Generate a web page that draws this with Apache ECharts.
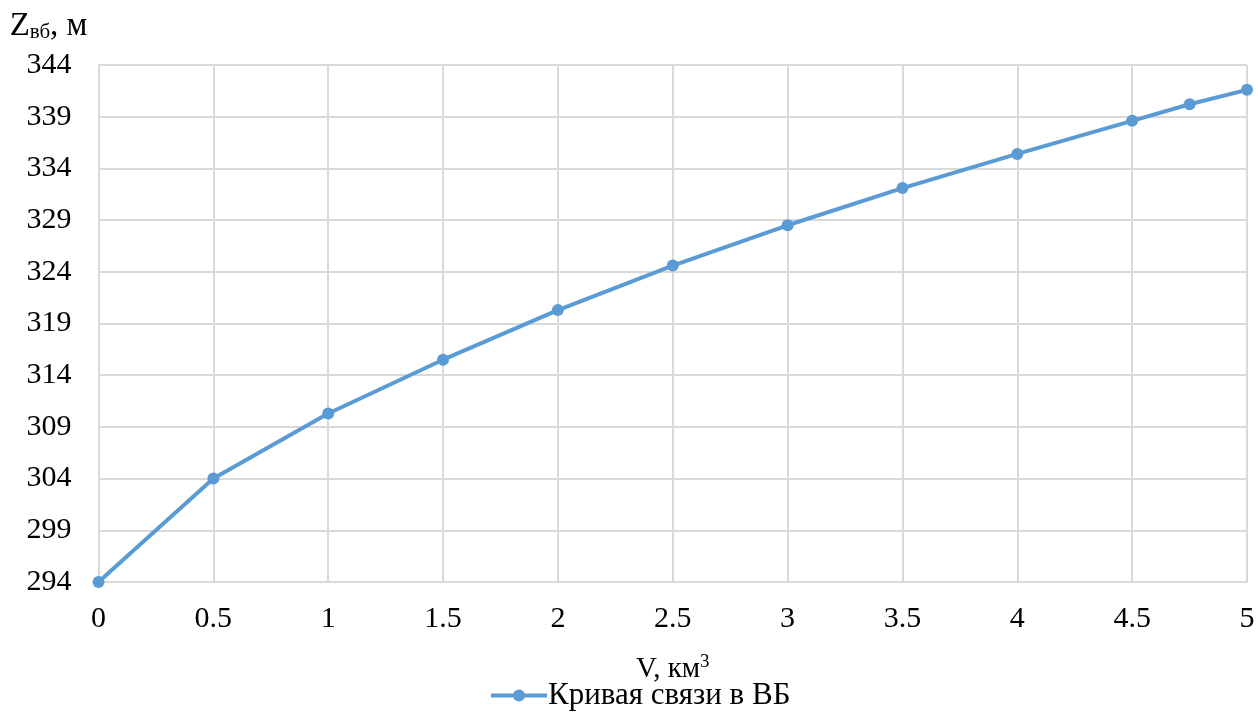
<!DOCTYPE html>
<html>
<head>
<meta charset="utf-8">
<script src="https://cdn.jsdelivr.net/npm/echarts@6/dist/echarts.min.js"></script>
<style>
  html, body { margin: 0; padding: 0; background: #fff; }
  #chart { width: 1258px; height: 718px; }
</style>
</head>
<body>
<div id="chart"></div>
<script>
// Volume (km³) and water level of the reservoir (m)
const volumes = [0, 0.5, 1, 1.5, 2, 2.5, 3, 3.5, 4, 4.5, 4.75, 5];
const levels = [294.0, 304.0, 310.3, 315.5, 320.3, 324.6, 328.5, 332.1, 335.4, 338.6, 340.2, 341.6];
const yTicks = [294, 299, 304, 309, 314, 319, 324, 329, 334, 339, 344];
const seriesName = 'Кривая связи в ВБ';

const FONT = '"Liberation Serif", "Times New Roman", serif';
const LINE_COLOR = '#5b9bd5';
const GRID_COLOR = '#d9d9d9';

const chart = echarts.init(document.getElementById('chart'));
chart.setOption({
  animation: false,
  textStyle: { fontFamily: FONT, color: '#000' },
  grid: { left: 98.5, right: 11, top: 65, bottom: 136, containLabel: false },
  xAxis: {
    type: 'value',
    min: 0,
    max: 5,
    interval: 0.5,
    name: '{t|V, км}{sup|3}',
    nameLocation: 'middle',
    nameGap: 71,
    nameTextStyle: {
      rich: {
        t: { fontFamily: FONT, fontSize: 29, color: '#000' },
        sup: { fontFamily: FONT, fontSize: 19, color: '#000', verticalAlign: 'top', padding: [0, 0, 14, 0] }
      }
    },
    axisLine: { show: true, lineStyle: { color: GRID_COLOR, width: 2 } },
    axisTick: { show: false },
    axisLabel: { fontFamily: FONT, fontSize: 30, color: '#000', margin: 22, showMaxLabel: true },
    splitLine: { show: true, lineStyle: { color: GRID_COLOR, width: 2 } }
  },
  yAxis: {
    type: 'value',
    min: yTicks[0],
    max: yTicks[yTicks.length - 1],
    name: '{t|Z}{sub|вб}{t|, м}',
    nameLocation: 'end',
    nameGap: 22,
    nameTextStyle: {
      align: 'right',
      padding: [0, 11, 0, 0],
      rich: {
        t: { fontFamily: FONT, fontSize: 33, color: '#000' },
        sub: { fontFamily: FONT, fontSize: 21, color: '#000', verticalAlign: 'bottom', padding: [12, 0, 0, 0] }
      }
    },
    axisLine: { show: true, lineStyle: { color: GRID_COLOR, width: 2 } },
    axisTick: { show: false, customValues: yTicks },
    axisLabel: { fontFamily: FONT, fontSize: 30, color: '#000', margin: 27, customValues: yTicks },
    splitLine: { show: true, customValues: yTicks, lineStyle: { color: GRID_COLOR, width: 2 } }
  },
  legend: {
    show: true,
    bottom: 2,
    left: 484,
    itemWidth: 56,
    itemHeight: 15,
    itemGap: 0,
    lineStyle: { width: 4 },
    textStyle: { fontFamily: FONT, fontSize: 31, color: '#000', padding: [0, 0, 0, -4] },
    data: [seriesName]
  },
  series: [{
    name: seriesName,
    type: 'line',
    data: volumes.map((v, i) => [v, levels[i]]),
    symbol: 'circle',
    symbolSize: 12,
    lineStyle: { color: LINE_COLOR, width: 4 },
    itemStyle: { color: LINE_COLOR },
    clip: false
  }]
});
</script>
</body>
</html>
